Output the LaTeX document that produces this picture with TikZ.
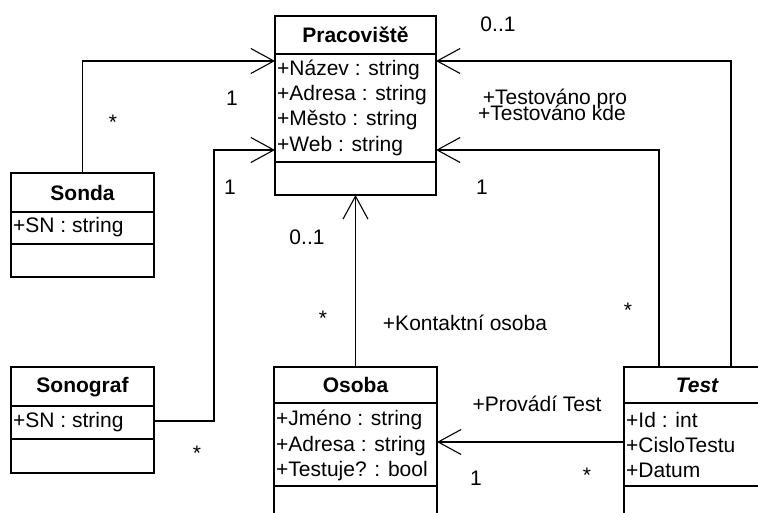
\documentclass[tikz,border=0pt]{standalone}
\usepackage{fontspec}
\setmainfont{Liberation Sans}
\usetikzlibrary{arrows.meta}

\begin{document}
\begin{tikzpicture}[x=1pt,y=-1pt,
  txt/.style={inner sep=0pt, font=\fontsize{21}{25}\selectfont},
  classbox/.style={draw, line width=1.8pt, rectangle, inner sep=0pt, outer sep=0pt, anchor=north west},
  classtitle/.style={txt, font=\fontsize{21}{25}\selectfont\bfseries},
  attr/.style={txt, anchor=west},
  lbl/.style={txt},
  divider/.style={line width=1.8pt},
  assoc/.style={line width=1.1pt, -{Straight Barb[length=23pt 0 0, width=25pt 0 0, line width=1.1pt]}}
]
\useasboundingbox (0,0) rectangle (758,513);
\fill[white] (0,0) rectangle (758,513);
\clip (0,0) rectangle (758,513);

% ---- class Pracoviste ----
\node[classbox, minimum width=161pt, minimum height=179pt] (prac) at (275,16) {};
\draw[divider] (prac.west |- 0,54) -- (prac.east |- 0,54);
\draw[divider] (prac.west |- 0,162) -- (prac.east |- 0,162);
\node[classtitle] (pracT) at (355.5,35) {Pracoviště};
\node[attr] (pracA1) at (277,70) {+Název : string};
\node[attr] (pracA2) at (277,95) {+Adresa : string};
\node[attr] (pracA3) at (277,120.5) {+Město : string};
\node[attr] (pracA4) at (277,146) {+Web : string};

% ---- class Sonda ----
\node[classbox, minimum width=143pt, minimum height=104pt] (sonda) at (11,173) {};
\draw[divider] (sonda.west |- 0,212) -- (sonda.east |- 0,212);
\draw[divider] (sonda.west |- 0,244) -- (sonda.east |- 0,244);
\node[classtitle] (sondaT) at (82.5,193) {Sonda};
\node[attr] (sondaA1) at (13,227) {+SN : string};

% ---- class Sonograf ----
\node[classbox, minimum width=143pt, minimum height=106pt] (sonograf) at (11,367) {};
\draw[divider] (sonograf.west |- 0,406) -- (sonograf.east |- 0,406);
\draw[divider] (sonograf.west |- 0,439) -- (sonograf.east |- 0,439);
\node[classtitle] (sonografT) at (82.5,387) {Sonograf};
\node[attr] (sonografA1) at (13,422) {+SN : string};

% ---- class Osoba ----
\node[classbox, minimum width=163pt, minimum height=170pt] (osoba) at (274,367) {};
\draw[divider] (osoba.west |- 0,403) -- (osoba.east |- 0,403);
\draw[divider] (osoba.west |- 0,486) -- (osoba.east |- 0,486);
\node[classtitle] (osobaT) at (355.5,385) {Osoba};
\node[attr] (osobaA1) at (276,420) {+Jméno : string};
\node[attr] (osobaA2) at (276,446) {+Adresa : string};
\node[attr] (osobaA3) at (276,471) {+Testuje? : bool};

% ---- class Test (abstract) ----
\node[classbox, minimum width=146pt, minimum height=170pt] (test) at (624,367) {};
\draw[divider] (test.west |- 0,403) -- (test.east |- 0,403);
\draw[divider] (test.west |- 0,486) -- (test.east |- 0,486);
\node[classtitle, font=\fontsize{21}{25}\selectfont\bfseries\itshape] (testT) at (697,385) {Test};
\node[attr] (testA1) at (626,420) {+Id : int};
\node[attr] (testA2) at (626,445) {+CisloTestu};
\node[attr] (testA3) at (626,470) {+Datum};

% ---- attachment points ----
\coordinate (pracW1) at (prac.west |- 0,61);
\coordinate (pracW2) at (prac.west |- 0,150);
\coordinate (pracE1) at (prac.east |- 0,61);
\coordinate (pracE2) at (prac.east |- 0,150);
\coordinate (testN1) at (731,367);
\coordinate (testN2) at (659,367);
\coordinate (sonografE) at (sonograf.east |- 0,421);
\coordinate (bendSonograf) at (214,421);
\coordinate (testW) at (test.west |- 0,442);
\coordinate (osobaE) at (osoba.east |- 0,442);

% ---- associations ----
\draw[assoc] (sonda.north) |- (pracW1);
\draw[assoc] (sonografE) -- (bendSonograf) |- (pracW2);
\draw[assoc] (osoba.north) -- (prac.south);
\draw[assoc] (testN1) |- (pracE1);
\draw[assoc] (testN2) |- (pracE2);
\draw[assoc] (testW) -- (osobaE);

% ---- multiplicities and role names ----
\node[lbl] (m1) at (113,122) {*};
\node[lbl] (m2) at (232,98) {1};
\node[lbl] (m3) at (230,187) {1};
\node[lbl] (m4) at (197,453) {*};
\node[lbl] (m5) at (307,237) {0..1};
\node[lbl] (m6) at (323,318) {*};
\node[lbl] (r1) at (465,323) {+Kontaktní osoba};
\node[lbl] (m7) at (498,24) {0..1};
\node[lbl] (r2) at (555,99) {+Testováno pro};
\node[lbl] (r3) at (552,113) {+Testováno kde};
\node[lbl] (m8) at (482,187) {1};
\node[lbl] (m9) at (628,310) {*};
\node[lbl] (r4) at (537,404) {+Provádí Test};
\node[lbl] (m10) at (476,478) {1};
\node[lbl] (m11) at (587,475) {*};
\end{tikzpicture}
\end{document}
